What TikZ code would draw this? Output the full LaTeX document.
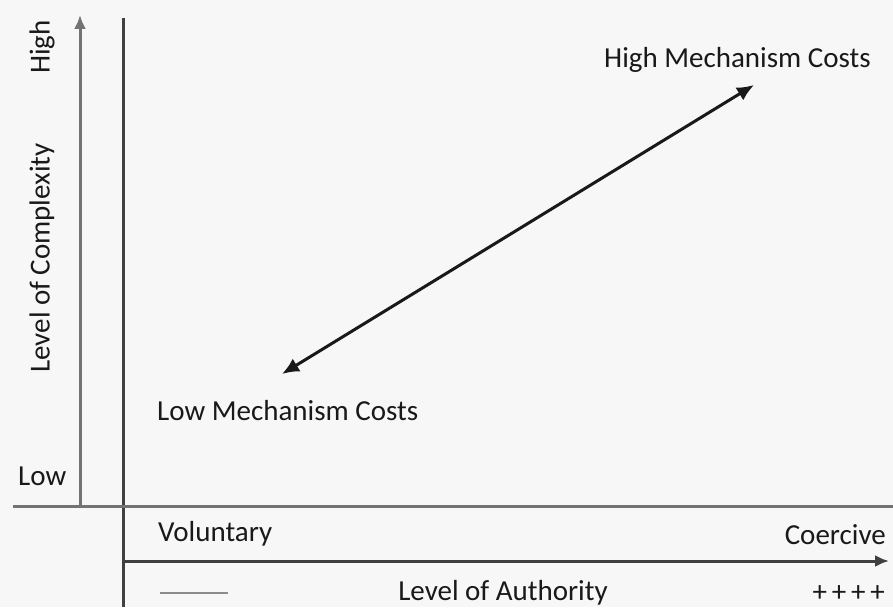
\documentclass[tikz,border=0pt]{standalone}
\usepackage{fontspec}
\setmainfont{Carlito}
\usetikzlibrary{arrows.meta}
\begin{document}
\begin{tikzpicture}[x=1pt,y=-1pt,
  lbl/.style={inner sep=0pt,font=\fontsize{29}{34}\selectfont,text=black!90},
  axis/.style={line width=3pt,draw=black!75},
  softaxis/.style={line width=3pt,draw=black!55},
  tip/.style={-{Latex[length=14pt,width=12pt]}}]
  \useasboundingbox[fill=black!3] (0,0) rectangle (893,607);

  % vertical axis: level of complexity
  \coordinate (cbot) at (80,506);
  \coordinate (ctop) at (80,15);
  \draw[softaxis,tip] (cbot) -- (ctop);

  % separator lines
  \coordinate (vtop) at (123,18);
  \coordinate (vbot) at (123,607);
  \draw[axis] (vtop) -- (vbot);
  \coordinate (hl) at (13,506);
  \coordinate (hr) at (893,506);
  \draw[softaxis] (hl) -- (hr);

  % horizontal axis: level of authority
  \coordinate (aleft) at (123,561);
  \coordinate (aright) at (889,561);
  \draw[axis,tip] (aleft) -- (aright);

  % short dash for the low end
  \coordinate (dl) at (160,593);
  \coordinate (dr) at (228,593);
  \draw[line width=2.6pt,draw=black!45] (dl) -- (dr);

  % cost arrow
  \coordinate (lowc) at (282,374);
  \coordinate (highc) at (754,85);
  \draw[line width=3pt,draw=black!90,{Latex[length=17pt,width=15pt]}-{Latex[length=17pt,width=15pt]}] (lowc) -- (highc);

  % labels
  \node[lbl,rotate=90] (high) at (42,47) {High};
  \node[lbl,rotate=90] (loc) at (42,258) {Level of Complexity};
  \node[lbl,anchor=base west] (low) at (18,485) {Low};
  \node[lbl,anchor=base west] (vol) at (158,541) {Voluntary};
  \node[lbl,anchor=base east] (coe) at (886,544) {Coercive};
  \node[lbl,anchor=base] (loa) at (503,600) {Level of Authority};
  \node[lbl,anchor=east] (plus) at (885,594) {+\,+\,+\,+};
  \node[lbl,anchor=base west] (hmc) at (604,68) {High Mechanism Costs};
  \node[lbl,anchor=base west] (lmc) at (157,420) {Low Mechanism Costs};
\end{tikzpicture}
\end{document}
